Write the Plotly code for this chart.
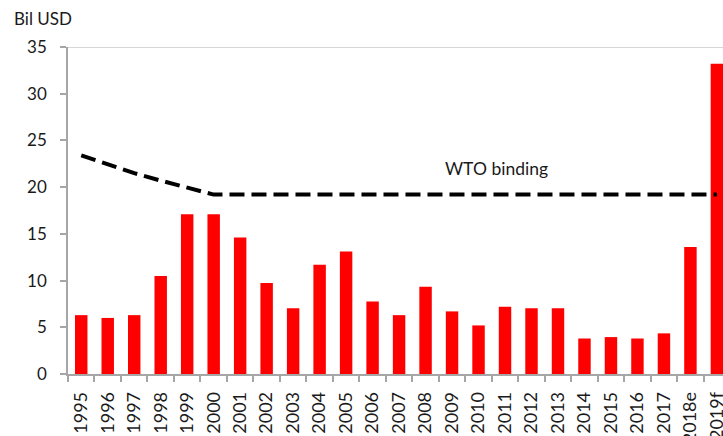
import plotly.graph_objects as go

years = ["1995", "1996", "1997", "1998", "1999", "2000", "2001", "2002", "2003",
         "2004", "2005", "2006", "2007", "2008", "2009", "2010", "2011", "2012",
         "2013", "2014", "2015", "2016", "2017", "2018e", "2019f"]
subsidies = [6.3, 6.0, 6.3, 10.5, 17.1, 17.1, 14.6, 9.75, 7.05,
             11.7, 13.1, 7.75, 6.3, 9.35, 6.7, 5.2, 7.2, 7.05,
             7.05, 3.8, 3.95, 3.8, 4.35, 13.6, 33.2]
wto_binding = [23.4, 22.4, 21.5, 20.7, 20.0, 19.2, 19.2, 19.2, 19.2,
               19.2, 19.2, 19.2, 19.2, 19.2, 19.2, 19.2, 19.2, 19.2,
               19.2, 19.2, 19.2, 19.2, 19.2, 19.2, 19.2]
y_ticks = [0, 5, 10, 15, 20, 25, 30, 35]

FONT = "Lato, 'Open Sans', sans-serif"
TXT = "#1a1a1a"
GREY = "#a6a6a6"

fig = go.Figure()
fig.add_trace(go.Bar(x=years, y=subsidies, marker=dict(color="#ff0000", line=dict(width=0)),
                     width=0.47, showlegend=False))
fig.add_trace(go.Scatter(x=years, y=wto_binding, mode="lines",
                         line=dict(color="black", width=4, dash="15px,7px"),
                         showlegend=False))

fig.add_annotation(x=15.68, y=22.0, xref="x", yref="y", text="WTO binding",
                   showarrow=False, font=dict(family=FONT, size=17.5, color=TXT))
fig.add_annotation(x=-0.085, y=1.088, xref="paper", yref="paper", text="Bil USD",
                   showarrow=False, xanchor="left", yanchor="middle",
                   font=dict(family=FONT, size=17, color=TXT))
fig.add_shape(type="line", xref="paper", yref="y", x0=0, x1=1, y0=35, y1=35,
              line=dict(color="#c8c8c8", width=1.5), layer="below")

fig.update_layout(
    width=723, height=436,
    margin=dict(l=68, r=0, t=47, b=62, autoexpand=False),
    paper_bgcolor="white", plot_bgcolor="white",
    font=dict(family=FONT, size=17, color=TXT),
    xaxis=dict(type="category", range=[-0.5, 24.23], showgrid=False, automargin=False,
               showline=True, linecolor=GREY, linewidth=1.5,
               ticks="outside", tickson="boundaries", ticklen=6, tickcolor=GREY,
               tickwidth=1.5, tickangle=-90, tickfont=dict(size=18, color=TXT),
               ticklabelstandoff=9),
    yaxis=dict(range=[0, 35], tickvals=y_ticks, showgrid=False, zeroline=False,
               automargin=False,
               showline=True, linecolor=GREY, linewidth=1.5,
               ticks="outside", ticklen=6, tickcolor=GREY, tickwidth=1.5,
               tickfont=dict(size=17, color=TXT), ticklabelstandoff=10),
    bargap=0.5,
)

fig.write_html("out.html", config={"displayModeBar": False},
               post_script="document.body.style.margin='0';document.body.style.overflow='hidden';")
